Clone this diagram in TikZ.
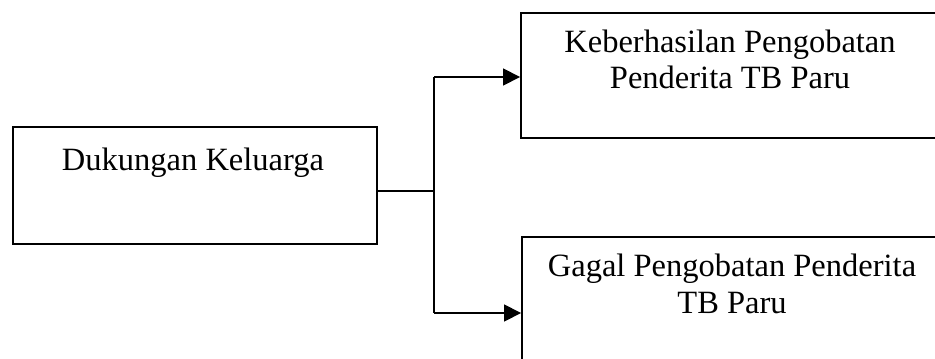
\documentclass[tikz,border=0pt]{standalone}
\usepackage{fontspec}
\setmainfont{Liberation Serif}
\usetikzlibrary{arrows.meta}
\tikzset{
	box/.style={draw,line width=1pt,minimum width=364*0.02cm,minimum height=117*0.02cm,inner sep=0pt},
	txt/.style={anchor=base,inner sep=0pt,font=\fontsize{18.5}{22}\selectfont},
	link/.style={line width=0.9pt},
	arr/.style={line width=1.4pt,-{Triangle[length=9.7pt,width=9.5pt]}}
}
\begin{document}
\begin{tikzpicture}[x=0.02cm,y=-0.02cm]
	\clip (0,0) rectangle (935,358);
	\node [box] at (195,185.5) (keluarga) {};
	\node [box,minimum width=418*0.02cm,minimum height=125*0.02cm] at (730,75.5) (berhasil) {};
	\node [box,minimum width=418*0.02cm,minimum height=125*0.02cm] at (731,299.5) (gagal) {};
	\node [txt] at (193,170) (tkeluarga) {Dukungan Keluarga};
	\node [txt] at (730,52) (tberhasil1) {Keberhasilan Pengobatan};
	\node [txt] at (730,89) (tberhasil2) {Penderita TB Paru};
	\node [txt] at (732,276) (tgagal1) {Gagal Pengobatan Penderita};
	\node [txt] at (732,313) (tgagal2) {TB Paru};
	\coordinate (split) at (434,191);
	\coordinate (up) at (434,77);
	\coordinate (down) at (434,313);
	\draw [link] (keluarga.east |- split) -- (split);
	\draw [link] (up) -- (down);
	\draw [arr] (up) -- (up -| berhasil.west);
	\draw [arr] (down) -- (down -| gagal.west);
\end{tikzpicture}
\end{document}
